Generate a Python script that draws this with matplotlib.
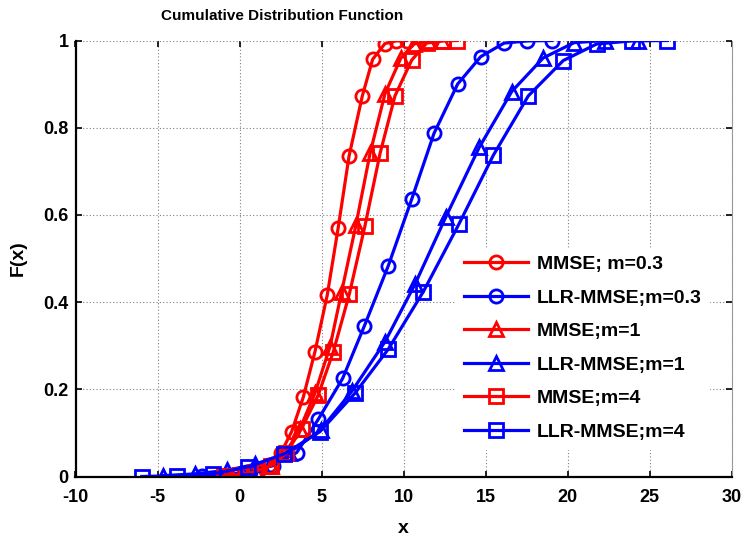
import matplotlib
matplotlib.use("Agg")
import matplotlib.pyplot as plt

# CDF points
x_mmse_03 = [-0.3, 0.4, 1.1, 1.8, 2.51, 3.18, 3.89, 4.6, 5.35, 6.02, 6.68, 7.49, 8.12, 8.87, 9.54, 10.2]
f_mmse_03 = [0.001, 0.004, 0.012, 0.026, 0.053, 0.103, 0.182, 0.286, 0.416, 0.571, 0.735, 0.873, 0.957, 0.993, 0.999, 1.0]

x_llr_03 = [-2.3, -0.8, 0.63, 2.06, 3.49, 4.8, 6.29, 7.61, 9.07, 10.5, 11.86, 13.3, 14.71, 16.13, 17.55, 19.04]
f_llr_03 = [0.001, 0.004, 0.011, 0.025, 0.055, 0.131, 0.225, 0.345, 0.483, 0.636, 0.787, 0.9, 0.963, 0.994, 0.999, 1.0]

x_mmse_1 = [-0.8, 0.1, 1.0, 1.9, 2.8, 3.69, 4.6, 5.52, 6.23, 7.1, 7.96, 8.87, 9.83, 10.64, 11.5, 12.33]
f_mmse_1 = [0.001, 0.004, 0.011, 0.025, 0.053, 0.110, 0.191, 0.298, 0.424, 0.577, 0.741, 0.878, 0.959, 0.992, 0.999, 1.0]

x_llr_1 = [-4.65, -2.71, -0.78, 0.95, 3.0, 4.95, 6.84, 8.87, 10.7, 12.59, 14.62, 16.6, 18.52, 20.4, 22.29, 24.32]
f_llr_1 = [0.002, 0.006, 0.014, 0.028, 0.053, 0.107, 0.195, 0.309, 0.441, 0.596, 0.755, 0.883, 0.96, 0.995, 1.0, 1.0]

x_mmse_4 = [-0.97, 0.0, 0.95, 1.9, 2.84, 3.79, 4.8, 5.72, 6.7, 7.65, 8.57, 9.48, 10.5, 11.41, 12.43, 13.28]
f_mmse_4 = [0.001, 0.004, 0.011, 0.025, 0.053, 0.110, 0.187, 0.286, 0.419, 0.575, 0.741, 0.873, 0.955, 0.994, 0.999, 1.0]

x_llr_4 = [-5.96, -3.8, -1.63, 0.54, 2.73, 4.91, 7.04, 9.07, 11.21, 13.38, 15.48, 17.61, 19.74, 21.78, 23.91, 26.09]
f_llr_4 = [0.0, 0.002, 0.006, 0.022, 0.052, 0.103, 0.191, 0.292, 0.424, 0.579, 0.737, 0.873, 0.954, 0.992, 0.999, 1.0]

labels = ['MMSE; m=0.3', 'LLR-MMSE;m=0.3', 'MMSE;m=1', 'LLR-MMSE;m=1', 'MMSE;m=4', 'LLR-MMSE;m=4']
xticks = [-10, -5, 0, 5, 10, 15, 20, 25, 30]
yticks = [0, 0.2, 0.4, 0.6, 0.8, 1]
ytick_labels = ['0', '0.2', '0.4', '0.6', '0.8', '1']

plt.rcParams['font.family'] = ['Liberation Sans', 'DejaVu Sans']
plt.rcParams['font.weight'] = 'bold'
plt.rcParams['axes.unicode_minus'] = False

fig = plt.figure(figsize=(7.44, 5.40), dpi=100)
ax = fig.add_axes([75.5 / 744, 63.5 / 540, 656 / 744, 436 / 540])

series = [
  (x_mmse_03, f_mmse_03, 'red', 'o'),
  (x_llr_03, f_llr_03, 'blue', 'o'),
  (x_mmse_1, f_mmse_1, 'red', '^'),
  (x_llr_1, f_llr_1, 'blue', '^'),
  (x_mmse_4, f_mmse_4, 'red', 's'),
  (x_llr_4, f_llr_4, 'blue', 's'),
]
for (xs, fs, c, m), lab in zip(series, labels):
  ax.plot(xs, fs, color=c, marker=m, lw=2.3, ms=9.5, mew=2.0,
          fillstyle='none', label=lab)

ax.set_xlim(-10, 30)
ax.set_ylim(0, 1)
ax.set_xticks(xticks)
ax.set_yticks(yticks)
ax.set_yticklabels(ytick_labels)
ax.grid(True, color='#808080', linestyle=(0, (1, 2)), lw=0.8)
ax.tick_params(direction='in', length=4, width=1.2, top=True, right=True,
               labelsize=13)
ax.tick_params(axis='x', pad=9)
ax.tick_params(axis='y', pad=5)
for lab in ax.get_xticklabels() + ax.get_yticklabels():
  lab.set_fontweight('bold')

ax.spines['left'].set_linewidth(1.6)
ax.spines['bottom'].set_linewidth(1.6)
ax.spines['top'].set_visible(False)
ax.spines['right'].set_color('#999999')
ax.spines['right'].set_linewidth(0.8)

ax.set_xlabel('x', fontsize=14, fontweight='bold', labelpad=10)
ax.set_ylabel('F(x)', fontsize=14, fontweight='bold', labelpad=12)
ax.text(0.315, 1.04, 'Cumulative Distribution Function', transform=ax.transAxes,
        ha='center', va='bottom', fontsize=11, fontweight='bold')

leg = ax.legend(loc='upper left', bbox_to_anchor=(0.58, 0.525), borderaxespad=0,
                fontsize=14, handlelength=3.3, handletextpad=0.45, labelspacing=0.82,
                frameon=True, fancybox=False, edgecolor='white', framealpha=1)
for t in leg.get_texts():
  t.set_fontweight('bold')

fig.savefig('out.png', dpi=100)
